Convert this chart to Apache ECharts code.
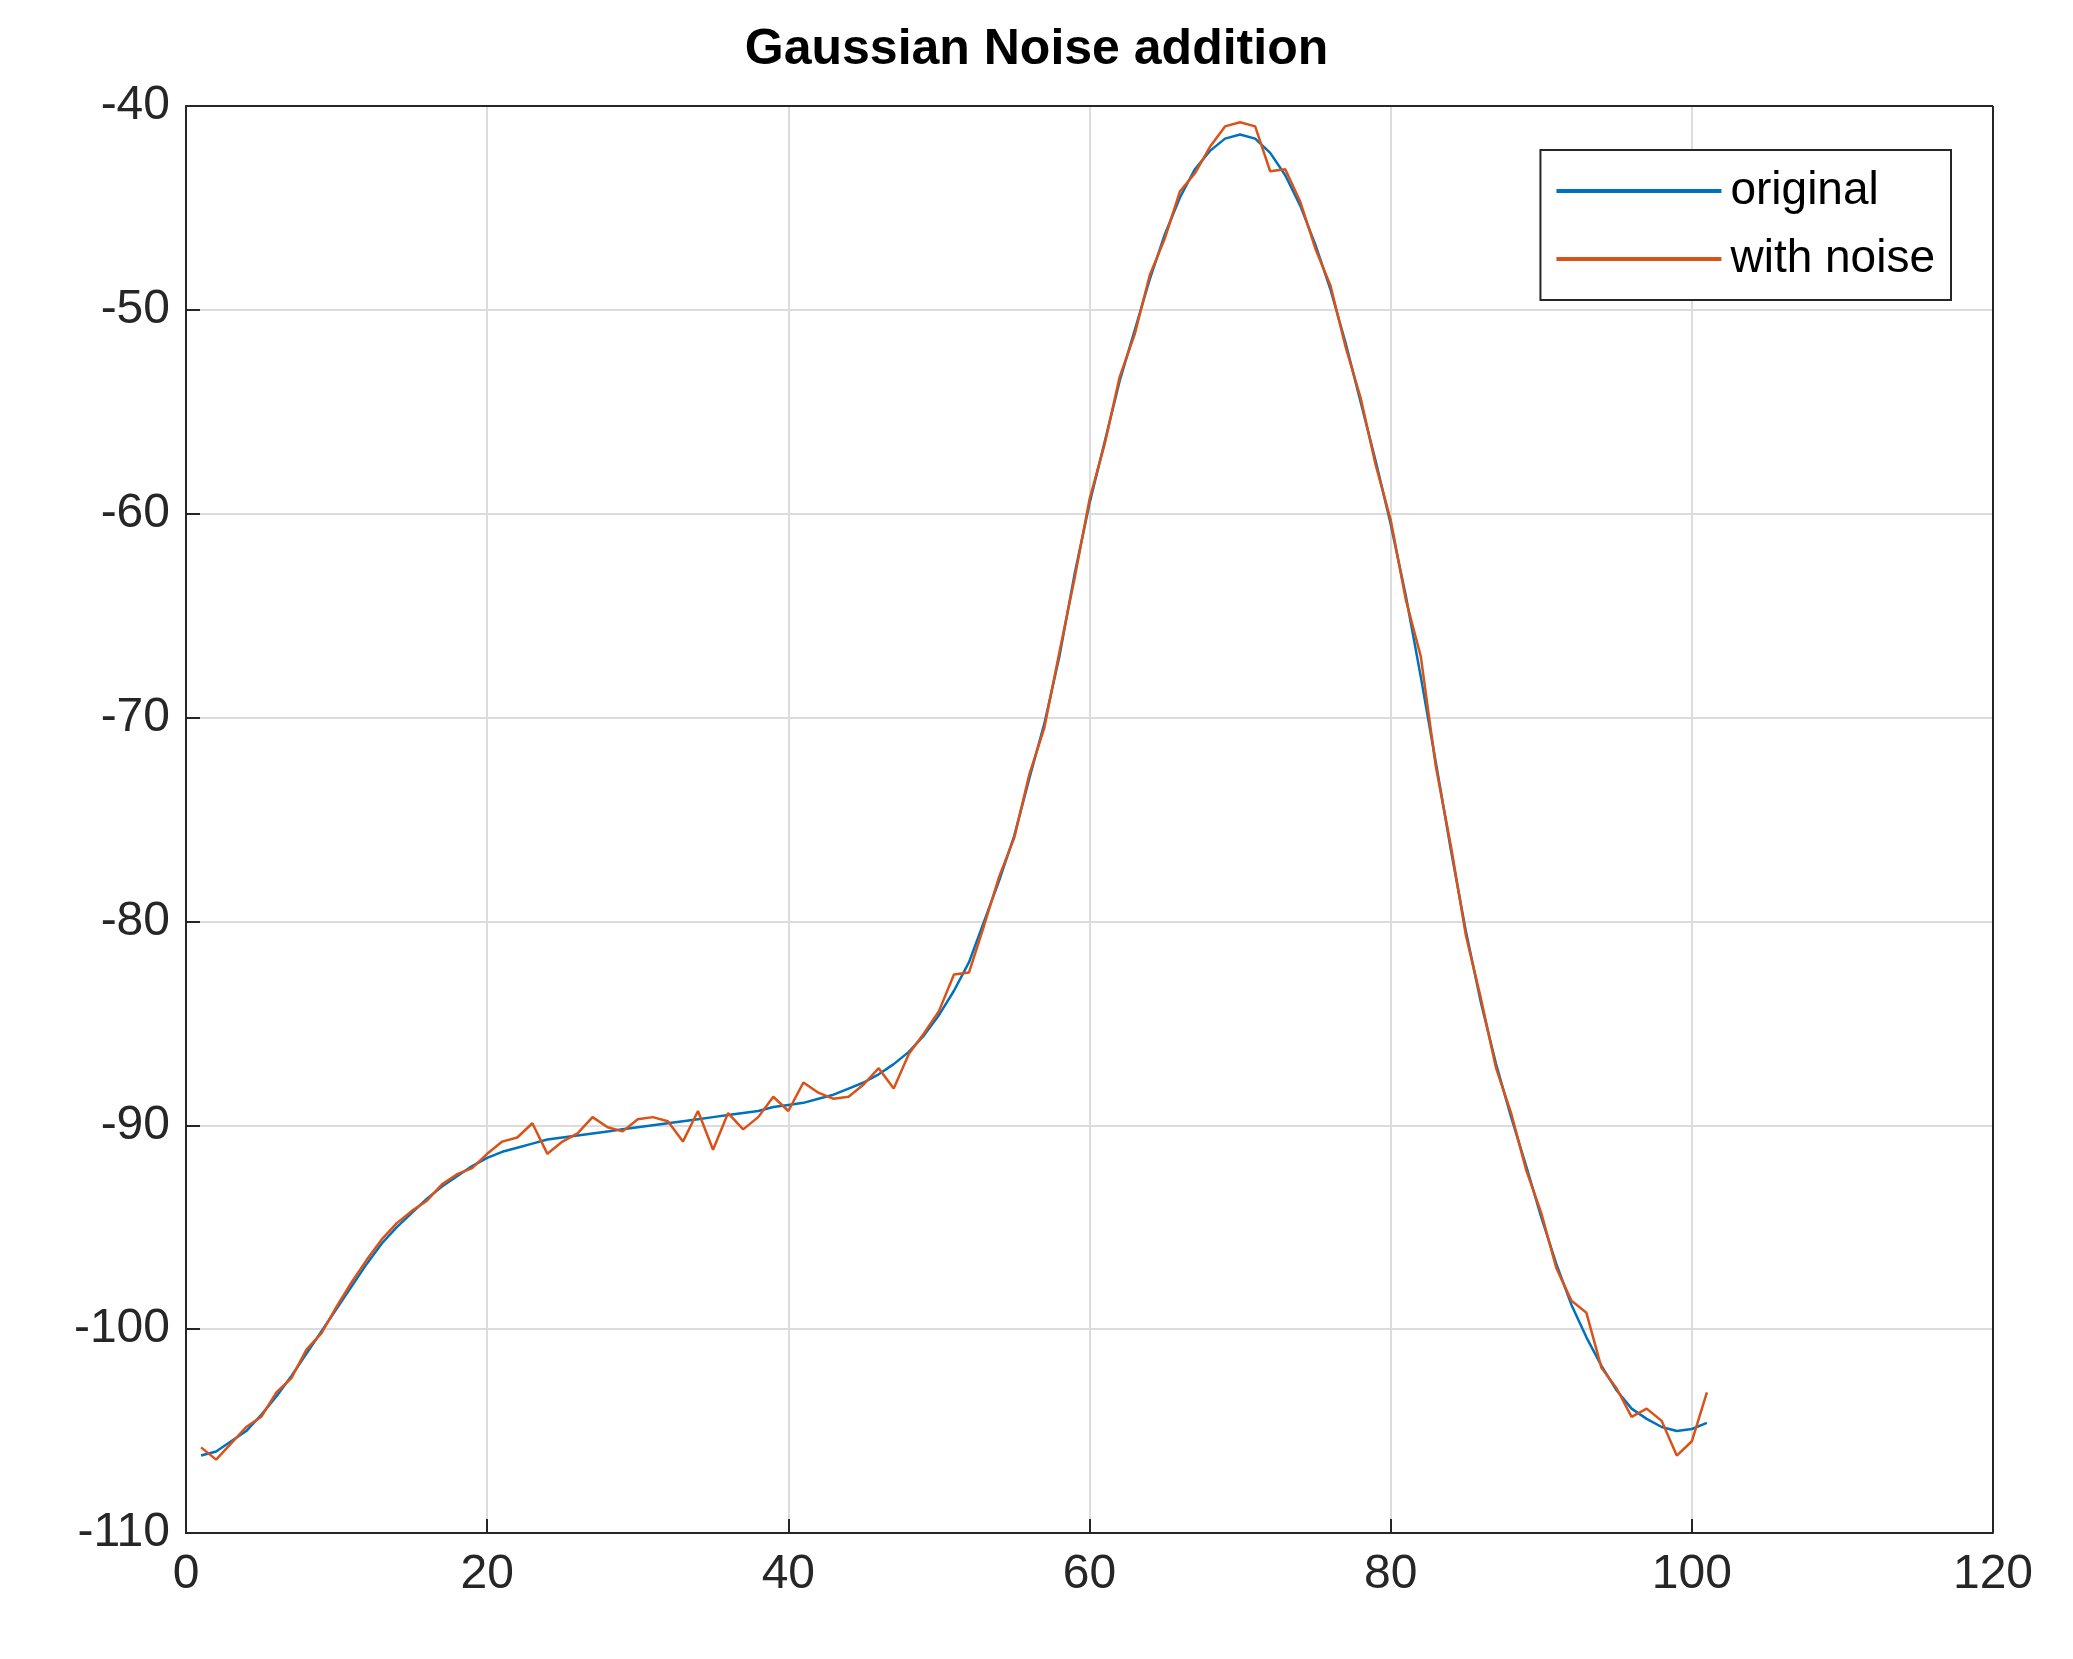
<!DOCTYPE html>
<html><head><meta charset="utf-8">
<script src="https://cdn.jsdelivr.net/npm/echarts@6/dist/echarts.min.js"></script>
<style>html,body{margin:0;padding:0;background:#fff}#c{width:2073px;height:1659px}</style>
</head><body><div id="c"></div>
<script>
const xValues = Array.from({length:101},(_, i)=>i+1);
const original = [-106.2,-106,-105.5,-105,-104.2,-103.3,-102.3,-101.2,-100.1,-99,
-97.9,-96.8,-95.8,-95,-94.3,-93.6,-93,-92.5,-92,-91.6,
-91.3,-91.1,-90.9,-90.7,-90.6,-90.5,-90.4,-90.3,-90.2,-90.1,
-90,-89.9,-89.8,-89.7,-89.6,-89.5,-89.4,-89.3,-89.1,-89,
-88.9,-88.7,-88.5,-88.2,-87.9,-87.5,-87,-86.4,-85.6,-84.6,
-83.4,-82,-80,-78,-75.8,-73,-70.3,-67,-63,-59.5,
-56.5,-53.5,-51,-48.5,-46.3,-44.5,-43.1,-42.2,-41.6,-41.4,
-41.6,-42.3,-43.4,-44.9,-46.8,-49,-51.6,-54.5,-57.4,-60.5,
-64,-68,-72.2,-76.5,-80.5,-84,-87,-89.6,-92,-94.5,
-96.8,-98.8,-100.4,-101.8,-103,-103.9,-104.4,-104.8,-105,-104.9,-104.6];
const withNoise = [-105.8,-106.4,-105.6,-104.8,-104.3,-103.1,-102.4,-101,-100.2,-98.9,
-97.7,-96.6,-95.6,-94.8,-94.2,-93.7,-92.9,-92.4,-92.1,-91.4,
-90.8,-90.6,-89.9,-91.4,-90.8,-90.4,-89.6,-90.1,-90.3,-89.7,
-89.6,-89.8,-90.8,-89.3,-91.2,-89.4,-90.2,-89.6,-88.6,-89.3,
-87.9,-88.4,-88.7,-88.6,-88,-87.2,-88.2,-86.5,-85.5,-84.4,
-82.6,-82.5,-80.2,-77.8,-75.9,-72.8,-70.5,-66.8,-63.2,-59.3,
-56.6,-53.3,-51.2,-48.3,-46.5,-44.2,-43.3,-42,-41,-40.8,
-41,-43.2,-43.1,-44.7,-47,-48.8,-51.8,-54.3,-57.6,-60.3,
-64.2,-67,-72.4,-76.3,-80.7,-83.8,-87.2,-89.4,-92.2,-94.3,
-97,-98.6,-99.2,-101.9,-102.9,-104.3,-103.9,-104.5,-106.2,-105.5,-103.1];
const xTicks = [0,20,40,60,80,100,120];
const yTicks = [-110,-100,-90,-80,-70,-60,-50,-40];

const chart = echarts.init(document.getElementById('c'));
const ax = {fontSize:48, color:'#262626', fontFamily:'Liberation Sans, Arial, sans-serif'};
chart.setOption({
  animation:false,
  title:{text:'Gaussian Noise addition', left:'center', top:20,
    textStyle:{fontSize:50, fontWeight:'bold', color:'#000', fontFamily:'Liberation Sans, Arial, sans-serif'}},
  grid:{left:186, right:80, top:106, bottom:126},
  legend:{right:122, top:150, orient:'vertical', itemWidth:165, itemHeight:4, itemGap:22,
    padding:[18,16,18,16], borderColor:'#262626', borderWidth:2, backgroundColor:'#fff',
    icon:'rect', textStyle:{fontSize:46, color:'#000', padding:[0,0,0,4], fontFamily:'Liberation Sans, Arial, sans-serif'},
    data:['original','with noise']},
  xAxis:{type:'value', min:0, max:120, interval:20,
    axisLine:{lineStyle:{color:'#262626', width:2}},
    axisTick:{inside:true, length:14, lineStyle:{color:'#262626', width:2}},
    axisLabel:{...ax, margin:18},
    splitLine:{show:true, lineStyle:{color:'#dcdcdc', width:2}}},
  yAxis:{type:'value', min:-110, max:-40, interval:10,
    axisLine:{show:true, lineStyle:{color:'#262626', width:2}},
    axisTick:{show:true, inside:true, length:14, lineStyle:{color:'#262626', width:2}},
    axisLabel:{...ax, margin:16},
    splitLine:{show:true, lineStyle:{color:'#dcdcdc', width:2}}},
  series:[
    {name:'original', type:'line', showSymbol:false, color:'#0072BD', lineStyle:{width:2.5},
     data:xValues.map((x,i)=>[x, original[i]])},
    {name:'with noise', type:'line', showSymbol:false, color:'#D95319', lineStyle:{width:2.5},
     data:xValues.map((x,i)=>[x, withNoise[i]])},
    {type:'line', data:[], markLine:{silent:true, symbol:'none', label:{show:false},
      lineStyle:{color:'#262626', width:2, type:'solid'},
      data:[{xAxis:120},{yAxis:-40}]}}
  ]
});
</script></body></html>
